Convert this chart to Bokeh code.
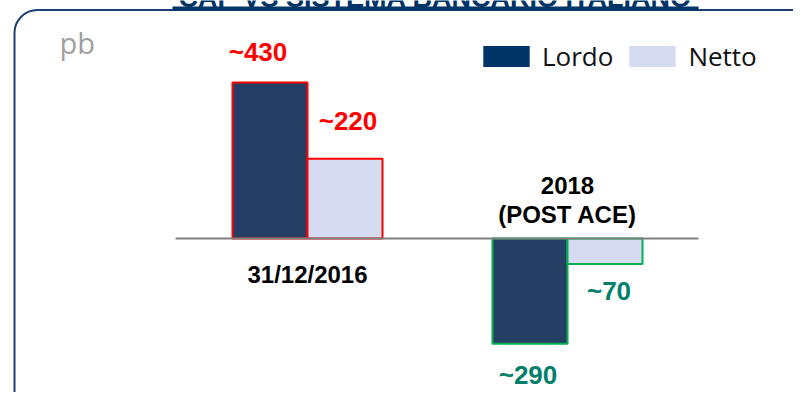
from bokeh.plotting import figure
from bokeh.models import Range1d, ColumnDataSource, Legend, LegendItem, BoxAnnotation
from bokeh.core.properties import value
from bokeh.embed import file_html
from bokeh.resources import INLINE

# ---- data ----
title_text = "CAP VS SISTEMA BANCARIO ITALIANO"
categories = ["31/12/2016", "2018\n(POST ACE)"]
lordo = [430, -290]
netto = [220, -70]
lordo_labels = ["~430", "~290"]
netto_labels = ["~220", "~70"]
series_names = ["Lordo", "Netto"]
unit_label = "pb"

# ---- styles ----
DARK = "#243F63"
DARK_LEG = "#003366"
LIGHT = "#D5DCF2"
RED = "#FF0000"
GREEN_LINE = "#00B050"
GREEN_TXT = "#00806A"
FRAME = "#1B3F72"
BOLD = value("Liberation Sans")
NAN = float("nan")
lordo_dx = [-12, -2]
netto_dx = [3, 4]

W, H = 793, 392
ppu = 0.3628           # pixels per pb
zero_fy = 238
y_top = zero_fy / ppu
y_bot = -(H - zero_fy) / ppu
group_px = 260.0
center0_fx = 307.0
x_start = -center0_fx / group_px
x_end = (W - center0_fx) / group_px
bw = 75.0 / group_px

def fx(px):
    return x_start + px / group_px

p = figure(width=W, height=H, output_backend="svg", toolbar_location=None,
           x_range=Range1d(x_start, x_end), y_range=Range1d(y_bot, y_top),
           x_axis_location=None, y_axis_location=None, min_border=0)
p.xgrid.visible = False
p.ygrid.visible = False
p.outline_line_color = None
p.background_fill_color = "white"
p.border_fill_color = "white"

xs = list(range(len(categories)))
xl = [x - bw / 2 for x in xs]
xn = [x + bw / 2 for x in xs]
outline = [RED if v > 0 else GREEN_LINE for v in lordo]
src = ColumnDataSource(dict(xl=xl, xn=xn, lordo=lordo, netto=netto, oc=outline))

# frame
p.add_layout(BoxAnnotation(left=fx(14), right=x_end + 1,
                           top=y_top - 9.5 / ppu, bottom=y_bot - 200,
                           fill_color=None, fill_alpha=0, line_color=FRAME, line_alpha=1,
                           line_width=2, border_radius=23, level="underlay"))
# title + underline
p.text(x=[fx(435)], y=[y_top], text=[title_text], y_offset=-3, text_align="center",
       text_baseline="alphabetic", text_font=BOLD, text_font_style="bold",
       text_font_size="27px", text_color=DARK_LEG)
p.segment(x0=[fx(172)], x1=[fx(698)], y0=[y_top - 8 / ppu], y1=[y_top - 8 / ppu],
          line_color=DARK_LEG, line_width=4)

# bars
p.vbar(x="xl", top="lordo", bottom=0, width=bw, source=src,
       fill_color=DARK, line_color="oc", line_width=2)
p.vbar(x="xn", top="netto", bottom=0, width=bw, source=src,
       fill_color=LIGHT, line_color="oc", line_width=2)

# zero line
p.segment(x0=[fx(175)], x1=[fx(698)], y0=[0], y1=[0], line_color="#808080", line_width=2)

# value labels
for i in xs:
    pos = lordo[i] > 0
    col = RED if pos else GREEN_TXT
    p.text(x=[xl[i]], y=[lordo[i]], text=[lordo_labels[i]], text_align="center",
           text_baseline="middle", y_offset=-30 if pos else 31, x_offset=lordo_dx[i],
           text_font=BOLD, text_font_style="bold", text_font_size="26px", text_color=col)
    pos2 = netto[i] > 0
    p.text(x=[xn[i]], y=[netto[i]], text=[netto_labels[i]], text_align="center",
           text_baseline="middle", y_offset=-38 if pos2 else 27, x_offset=netto_dx[i],
           text_font=BOLD, text_font_style="bold", text_font_size="26px", text_color=col)

# category labels
for i in xs:
    lines = categories[i].split("\n")
    if lordo[i] > 0:
        p.text(x=[i], y=[0], text=[lines[0]], text_align="center", text_baseline="middle",
               y_offset=36, text_font=BOLD, text_font_style="bold",
               text_font_size="24px", text_color="black")
    else:
        n = len(lines)
        for j, ln in enumerate(lines):
            p.text(x=[i], y=[0], text=[ln], text_align="center", text_baseline="middle",
                   y_offset=-24 - 29 * (n - 1 - j), text_font=BOLD, text_font_style="bold",
                   text_font_size="24px", text_color="black")

# unit label
p.text(x=[x_start], y=[y_top], text=[unit_label], x_offset=59, y_offset=42,
       text_baseline="alphabetic", text_align="left", text_font=value("Open Sans"),
       text_font_size="29px", text_color="#A0A0A0")

# legend
r1 = p.quad(left=[NAN], right=[NAN], top=[NAN], bottom=[NAN], fill_color=DARK_LEG, line_color=None)
r2 = p.quad(left=[NAN], right=[NAN], top=[NAN], bottom=[NAN], fill_color=LIGHT, line_color=None)
leg = Legend(items=[LegendItem(label=series_names[0], renderers=[r1]),
                    LegendItem(label=series_names[1], renderers=[r2])],
             orientation="horizontal", location=(477, H - 74),
             glyph_width=58, glyph_height=26, label_standoff=7, spacing=10,
             padding=0, margin=0, border_line_color=None, background_fill_alpha=0,
             label_text_font="Open Sans", label_text_font_size="26px",
             label_text_color="#111111")
p.add_layout(leg)

open("out.html", "w").write(file_html(p, INLINE))
